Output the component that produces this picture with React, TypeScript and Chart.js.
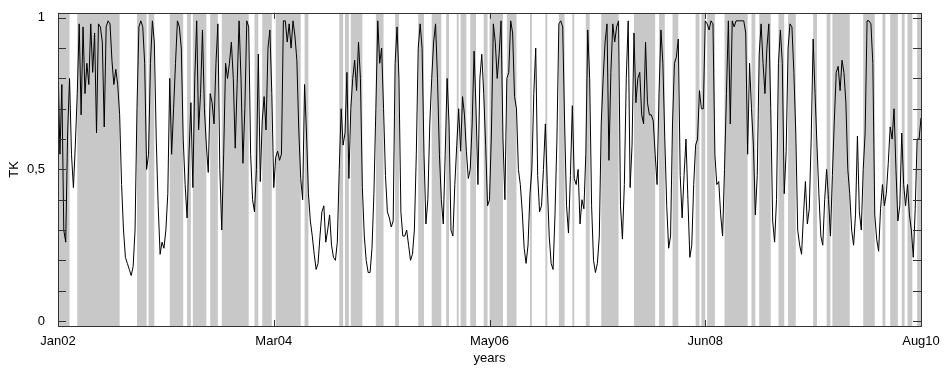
import React, { useEffect, useRef } from 'react';
import { Chart, registerables } from 'chart.js';

Chart.register(...registerables);

// x axis: week index from Jan 2002 (0) to Aug 2010 (448)
const tickWeeks = [0, 112, 224, 336, 448];
const tickLabels = ['Jan02', 'Mar04', 'May06', 'Jun08', 'Aug10'];
const yTicks = [0, 0.5, 1];
const yTickLabels = ['0', '0,5', '1'];
const Y_MIN = -0.0165;
const Y_MAX = 1.0165;

// TK series (weekly)
const tk = [
  0.85, 0.55, 0.78, 0.30, 0.26, 0.62, 0.80, 0.55, 0.44, 0.58,
  0.75, 0.98, 0.68, 0.97, 0.75, 0.85, 0.78, 0.98, 0.82, 0.95,
  0.62, 0.98, 0.97, 0.92, 0.64, 0.97, 0.99, 0.98, 0.86, 0.78,
  0.83, 0.78, 0.68, 0.45, 0.30, 0.21, 0.19, 0.17, 0.15, 0.18,
  0.30, 0.70, 0.97,
  0.99, 0.97, 0.85, 0.50, 0.55, 0.85, 0.99,
  0.92, 0.60, 0.38, 0.22, 0.26, 0.24, 0.30, 0.42, 0.80, 0.55,
  0.70, 0.85, 0.99, 0.97, 0.90, 0.60, 0.45, 0.34, 0.55, 0.72,
  0.44, 0.80, 0.99, 0.63, 0.75, 0.96, 0.70, 0.58, 0.49, 0.75,
  0.72, 0.65, 0.85, 0.98, 0.50, 0.30, 0.55, 0.85, 0.80,
  0.85, 0.92, 0.80, 0.57, 0.78, 0.99, 0.80, 0.52, 0.70, 0.99, 0.97,
  0.55, 0.40, 0.36, 0.50, 0.88, 0.46, 0.66, 0.74, 0.63, 0.90,
  0.96, 0.75, 0.44, 0.54, 0.56, 0.53, 0.55, 0.99, 0.99, 0.92,
  0.98, 0.90, 0.99, 0.94, 0.86, 0.63, 0.47, 0.40, 0.78, 0.62,
  0.42, 0.33, 0.28, 0.22, 0.17,
  0.19, 0.28, 0.36, 0.38, 0.26, 0.30, 0.35, 0.25, 0.21, 0.20,
  0.26, 0.50, 0.70, 0.58, 0.62, 0.82, 0.47, 0.70, 0.80, 0.86,
  0.76, 0.92, 0.80, 0.44, 0.28, 0.20, 0.16, 0.16, 0.24, 0.42,
  0.70, 0.99, 0.85, 0.90, 0.70, 0.48, 0.36, 0.34, 0.31, 0.33,
  0.85, 0.97, 0.80, 0.36, 0.28,
  0.28, 0.30, 0.25, 0.20, 0.22, 0.30, 0.55, 0.90, 0.98, 0.90,
  0.55, 0.32, 0.40, 0.65, 0.80, 0.92, 0.98, 0.80, 0.55, 0.40,
  0.32, 0.55, 0.80, 0.65, 0.30, 0.28, 0.45, 0.58, 0.70, 0.56,
  0.74, 0.68, 0.56, 0.47, 0.50, 0.65, 0.89, 0.70, 0.45, 0.80,
  0.88, 0.75, 0.58, 0.38, 0.40, 0.62,
  0.98, 0.92, 0.80, 0.88, 0.99, 0.60, 0.40, 0.80, 0.82, 0.99,
  0.95, 0.74, 0.70, 0.50, 0.45, 0.36, 0.24, 0.19, 0.25, 0.42,
  0.50, 0.75, 0.90, 0.48, 0.36, 0.38, 0.50, 0.65, 0.45, 0.28,
  0.19, 0.17, 0.35, 0.60, 0.98, 0.99, 0.97, 0.65, 0.38, 0.29,
  0.48, 0.71, 0.47, 0.45, 0.50, 0.32,
  0.40, 0.37, 0.55, 0.96, 0.80, 0.38, 0.20, 0.16, 0.19, 0.28,
  0.65, 0.80, 0.92, 0.98, 0.53, 0.82, 0.98, 0.92, 0.97, 0.99,
  0.38, 0.27, 0.45, 0.80, 0.99, 0.44, 0.58, 0.95, 0.72, 0.80,
  0.82, 0.68, 0.65, 0.92, 0.72, 0.68, 0.68, 0.66, 0.55, 0.45,
  0.75, 0.96, 0.85, 0.60, 0.38,
  0.24, 0.28, 0.65, 0.85, 0.87, 0.93, 0.48, 0.34, 0.48, 0.60,
  0.40, 0.21, 0.25, 0.45, 0.58, 0.60, 0.76, 0.70, 0.70, 0.99,
  0.98, 0.96, 0.99, 0.98, 0.55, 0.45, 0.46, 0.35, 0.28, 0.50,
  0.75, 0.99, 0.65, 0.99, 0.97, 0.99, 0.99, 0.99, 0.99, 0.99,
  0.95, 0.55, 0.85, 0.70, 0.58, 0.35,
  0.48, 0.88, 0.98, 0.85, 0.75, 0.90, 0.98, 0.70, 0.33, 0.26,
  0.40, 0.85, 0.96, 0.85, 0.42, 0.56, 0.90, 0.98, 0.97, 0.82,
  0.62, 0.30, 0.25, 0.22, 0.35, 0.46, 0.32, 0.37, 0.60, 0.93,
  0.75, 0.58, 0.42, 0.28, 0.25, 0.40, 0.50, 0.40, 0.28, 0.48,
  0.66, 0.82, 0.84, 0.76, 0.86, 0.82,
  0.72, 0.50, 0.42, 0.30, 0.25, 0.35, 0.61, 0.36, 0.30, 0.50,
  0.62, 0.99, 0.99, 0.98, 0.85, 0.35, 0.27, 0.23, 0.37, 0.45,
  0.38, 0.42, 0.52, 0.64, 0.60, 0.70, 0.50, 0.33, 0.38, 0.62,
  0.45, 0.38, 0.45, 0.35, 0.30, 0.21, 0.37, 0.60, 0.60, 0.67,
];

// Shaded regime periods [startWeek, endWeek]
const regimeStart = [
  0.5, 10, 41, 47, 58, 67, 70, 79, 85, 102, 106, 113, 128,
  146, 149, 152, 165, 175, 187, 194, 201.5, 207, 209, 214, 221,
  224, 233, 245, 253, 260, 267, 274, 282, 299, 312, 319, 331, 334, 337,
  346, 360, 364, 374, 379, 392, 399, 402, 418, 428, 432, 438, 441, 446,
];
const regimeEnd = [
  6, 32, 46, 50, 65, 69, 77, 83, 99, 104, 111, 126, 130,
  148, 151, 158, 169, 177, 190, 199, 203, 208, 212, 217, 223,
  231, 238, 246, 254, 263, 268, 276, 291, 310, 315, 322, 333, 336, 341,
  358, 362, 370, 377, 383, 394, 401, 411, 424, 429.5, 436, 439.5, 443.5, 448,
];

const FONT = { family: '"Liberation Sans", Arial, sans-serif', size: 13 };

const framePlugin = {
  id: 'frameTicks',
  afterDatasetsDraw(chart: any) {
    const { ctx, chartArea, scales } = chart;
    const { left, right, top, bottom } = chartArea;
    ctx.save();
    ctx.strokeStyle = '#333';
    ctx.lineWidth = 1;
    ctx.beginPath();
    for (let k = 0; k <= 10; k++) {
      const y = Math.round(scales.y.getPixelForValue(k / 10)) + 0.5;
      ctx.moveTo(left, y);
      ctx.lineTo(left + 8, y);
      ctx.moveTo(right, y);
      ctx.lineTo(right - 8, y);
    }
    tickWeeks.forEach((w) => {
      const x = Math.round(scales.x.getPixelForValue(w)) + 0.5;
      ctx.moveTo(x, bottom);
      ctx.lineTo(x, bottom - 6);
      ctx.moveTo(x, top);
      ctx.lineTo(x, top + 6);
    });
    ctx.stroke();
    ctx.strokeRect(Math.round(left) + 0.5, Math.round(top) + 0.5, Math.round(right - left), Math.round(bottom - top));
    ctx.restore();
  },
};

export default function App() {
  const ref = useRef<HTMLCanvasElement | null>(null);

  useEffect(() => {
    if (!ref.current) return;
    const linePts = tk.map((v, i) => ({ x: i, y: v }));
    const shadePts: { x: number; y: number }[] = [{ x: 0, y: Y_MIN }];
    regimeStart.forEach((a, k) => {
      const b = regimeEnd[k];
      shadePts.push({ x: a, y: Y_MIN }, { x: a, y: Y_MAX }, { x: b, y: Y_MAX }, { x: b, y: Y_MIN });
    });
    shadePts.push({ x: 448, y: Y_MIN });

    const chart = new Chart(ref.current, {
      type: 'line',
      data: {
        datasets: [
          {
            label: 'TK',
            data: linePts,
            borderColor: '#000',
            borderWidth: 1,
            pointRadius: 0,
            tension: 0,
            fill: false,
            order: 0,
          },
          {
            label: 'regime',
            data: shadePts,
            borderColor: 'rgba(0,0,0,0)',
            borderWidth: 0,
            backgroundColor: '#c8c8c8',
            pointRadius: 0,
            tension: 0,
            fill: 'start',
            order: 1,
          },
        ],
      },
      options: {
        animation: false,
        responsive: false,
        events: [],
        layout: { padding: { top: 12, right: 23, left: 0, bottom: 0 } },
        plugins: { legend: { display: false }, tooltip: { enabled: false } },
        scales: {
          x: {
            type: 'linear',
            min: 0,
            max: 448,
            grid: { display: false },
            border: { display: false },
            afterBuildTicks: (s: any) => {
              s.ticks = tickWeeks.map((v) => ({ value: v }));
            },
            afterFit: (s: any) => {
              s.height = 42;
            },
            ticks: {
              autoSkip: false,
              maxRotation: 0,
              padding: 0,
              color: '#000',
              font: FONT,
              callback: (v: any) => tickLabels[tickWeeks.indexOf(v)] ?? '',
            },
            title: { display: true, text: 'years', color: '#000', font: FONT, padding: { top: 0, bottom: 2 } },
          },
          y: {
            min: Y_MIN,
            max: Y_MAX,
            grid: { display: false },
            border: { display: false },
            afterBuildTicks: (s: any) => {
              s.ticks = yTicks.map((v) => ({ value: v }));
            },
            afterFit: (s: any) => {
              s.width = 58;
            },
            ticks: {
              padding: 5,
              color: '#000',
              font: FONT,
              callback: (v: any) => yTickLabels[yTicks.indexOf(v)] ?? '',
            },
            title: { display: true, text: 'TK', color: '#000', font: FONT, padding: { top: 7, bottom: 0 } },
          },
        },
      },
      plugins: [framePlugin],
    });
    return () => chart.destroy();
  }, []);

  return (
    <div style={{ position: 'fixed', left: 0, top: 0, width: 944, height: 368, background: '#fff' }}>
      <canvas ref={ref} width={944} height={368} style={{ display: 'block' }} />
    </div>
  );
}
